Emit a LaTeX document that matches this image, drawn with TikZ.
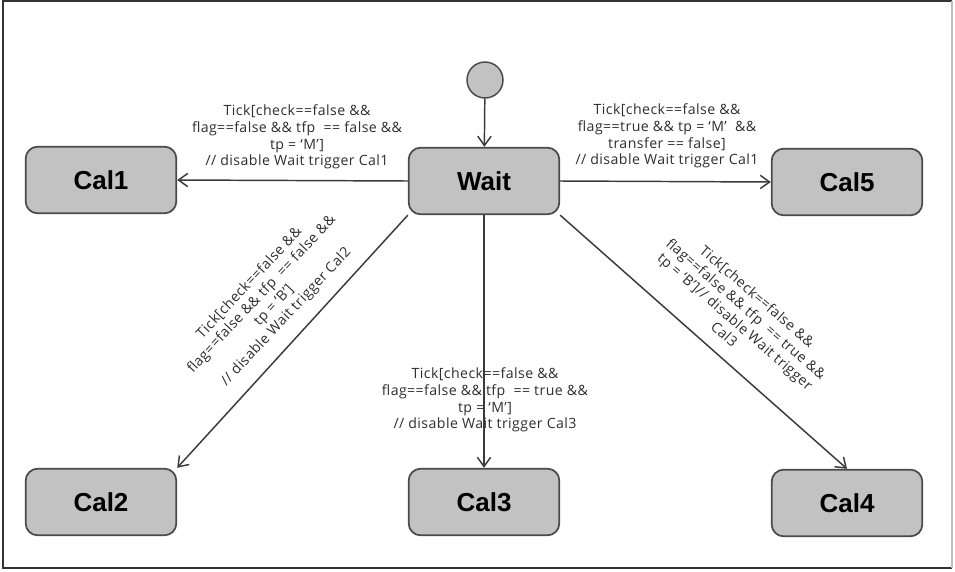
\documentclass[tikz,border=0pt]{standalone}
\usepackage{fontspec}
\setmainfont{Liberation Sans}
\newfontfamily\guardfont[LetterSpace=3]{Open Sans}
\usetikzlibrary{arrows.meta}
\definecolor{nodefill}{HTML}{C2C2C2}
\definecolor{nodeline}{HTML}{4A4A4A}
\definecolor{arrowcol}{HTML}{3A3A3A}
\definecolor{txtcol}{HTML}{2E2E2E}
\tikzset{
  state/.style={draw=nodeline, fill=nodefill, line width=1.3pt, rounded corners=9pt,
    minimum width=113pt, minimum height=50pt, inner sep=0pt,
    font=\bfseries\fontsize{19.5}{21}\selectfont, text=black},
  initstate/.style={draw=nodeline, fill=nodefill, line width=1.1pt, circle, minimum size=27pt, inner sep=0pt},
  trans/.style={draw=arrowcol, line width=1.1pt, -{Straight Barb[length=7pt,width=10pt,line width=1.1pt]}},
  guard/.style={align=center, font=\guardfont\fontsize{10.6}{12.5}\selectfont, text=txtcol, inner sep=1pt}
}
\begin{document}
\begin{tikzpicture}[x=0.75pt,y=-0.75pt]
\useasboundingbox (0,0) rectangle (955,571);
% frame
\draw[line width=1.2pt, black!80] (952,1) -- (3,1) -- (3,568) -- (952,568);
\draw[line width=1pt, black!25] (952,1) -- (952,568);
% nodes
\node[initstate] (init) at (485,80) {};
\node[state] (wait) at (484,181) {Wait};
\node[state] (cal1) at (101,180) {Cal1};
\node[state] (cal5) at (847,182) {Cal5};
\node[state] (cal2) at (101,502) {Cal2};
\node[state] (cal3) at (484,502) {Cal3};
\node[state] (cal4) at (847,503) {Cal4};
% transitions
\draw[trans] (init) -- (wait);
\draw[trans] (wait.west) -- (cal1.east);
\draw[trans] (wait.east) -- (cal5.west);
\draw[trans] (wait.south west) -- (cal2.north east);
\draw[trans] (wait.south) -- (cal3.north);
\draw[trans] (wait.south east) -- (cal4.north);
% guards
\node[guard] (g1) at (297,137) {Tick[check==false \&\&\\flag==false \&\& tfp\ \ == false \&\&\\tp = ‘M’]\\// disable Wait trigger Cal1};
\node[guard] (g5) at (667,136) {Tick[check==false \&\&\\flag==true \&\& tp = ‘M’\ \ \&\&\\transfer == false]\\// disable Wait trigger Cal1};
\node[guard] (g3) at (485,400) {Tick[check==false \&\&\\flag==false \&\& tfp\ \ == true \&\&\\tp = ‘M’]\\// disable Wait trigger Cal3};
\node[guard, rotate=47] (g2) at (268,300) {Tick[check==false \&\&\\flag==false \&\& tfp\ \ == false \&\&\\tp = ‘B’]\\// disable Wait trigger Cal2};
\node[guard, rotate=-41] (g4) at (741,315) {Tick[check==false \&\&\\flag==false \&\& tfp\ \ == true \&\&\\tp = ‘B’]// disable Wait trigger\\Cal3};
\end{tikzpicture}
\end{document}
